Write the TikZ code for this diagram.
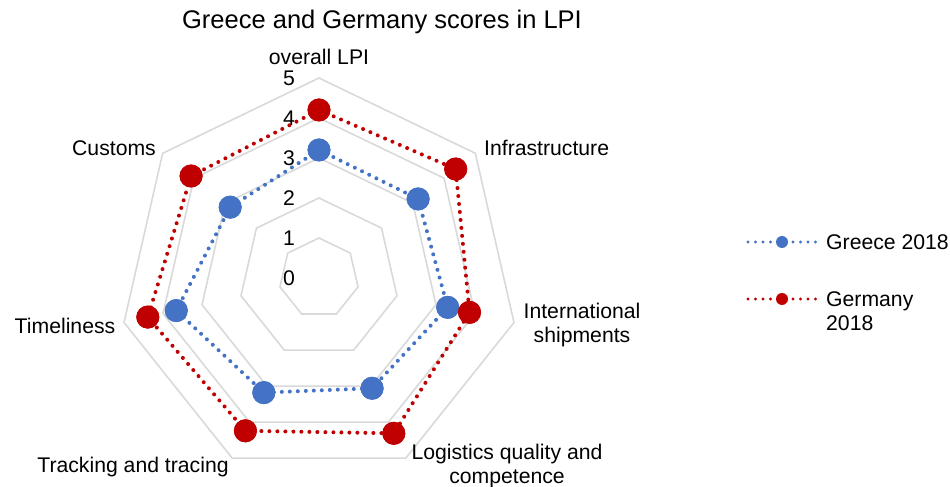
\documentclass[tikz,border=0pt]{standalone}
\usepackage{fontspec}
\setmainfont{Liberation Sans}
\definecolor{gblue}{HTML}{4472C4}
\definecolor{dred}{HTML}{C00000}
\definecolor{gridgray}{HTML}{D9D9D9}
\begin{document}
\begin{tikzpicture}[x=1pt,y=1pt,
  ringline/.style={draw=gridgray,line width=1.6pt},
  lab/.style={font=\fontsize{21.2}{24}\selectfont,inner sep=0pt},
  ttl/.style={font=\fontsize{25.5}{30}\selectfont,inner sep=0pt},
  bdot/.style={circle,fill=gblue,inner sep=0pt,minimum size=23pt},
  rdot/.style={circle,fill=dred,inner sep=0pt,minimum size=23pt},
  lbdot/.style={circle,fill=gblue,inner sep=0pt,minimum size=12pt},
  lrdot/.style={circle,fill=dred,inner sep=0pt,minimum size=12pt},
  bline/.style={draw=gblue,line width=4pt,line cap=round,dash pattern=on 0pt off 8pt},
  rline/.style={draw=dred,line width=4pt,line cap=round,dash pattern=on 0pt off 8pt},
  lbline/.style={draw=gblue,line width=3.4pt,line cap=round,dash pattern=on 0pt off 7.5pt},
  lrline/.style={draw=dred,line width=3.4pt,line cap=round,dash pattern=on 0pt off 7.5pt}]
\useasboundingbox (-319,-209) rectangle (631,278);
% grid rings
\foreach \v in {1,...,5} {
  \draw[ringline] (90:{\v*40}) \foreach \k in {1,...,6} { -- ({90-\k*360/7}:{\v*40}) } -- cycle;
}
% axis values
\foreach \v in {0,...,5} { \node[lab] (t\v) at (-30,{\v*40}) {\v}; }
% title
\node[ttl] (title) at (63,256) {Greece and Germany scores in LPI};
% category labels
\node[lab] (c0) at (0,221) {overall LPI};
\node[lab,anchor=west] (c1) at (165,130) {Infrastructure};
\node[lab,align=center] (c2) at (263,-47) {International\\shipments};
\node[lab,align=center] (c3) at (188,-188) {Logistics quality and\\competence};
\node[lab] (c4) at (-186,-189) {Tracking and tracing};
\node[lab] (c5) at (-254,-48) {Timeliness};
\node[lab] (c6) at (-205,130) {Customs};
% Greece 2018
\def\ang#1{90-#1*360/7}
\node[bdot] (g0) at ({\ang{0}}:{3.20*40}) {};
\node[bdot] (g1) at ({\ang{1}}:{3.17*40}) {};
\node[bdot] (g2) at ({\ang{2}}:{3.30*40}) {};
\node[bdot] (g3) at ({\ang{3}}:{3.06*40}) {};
\node[bdot] (g4) at ({\ang{4}}:{3.18*40}) {};
\node[bdot] (g5) at ({\ang{5}}:{3.66*40}) {};
\node[bdot] (g6) at ({\ang{6}}:{2.84*40}) {};
\draw[bline] (g0.center) -- (g1.center) -- (g2.center) -- (g3.center) -- (g4.center) -- (g5.center) -- (g6.center) -- (g0.center);
\foreach \k in {0,...,6} { \fill[gblue] (g\k) circle (11.5pt); }
% Germany 2018
\node[rdot] (d0) at ({\ang{0}}:{4.20*40}) {};
\node[rdot] (d1) at ({\ang{1}}:{4.37*40}) {};
\node[rdot] (d2) at ({\ang{2}}:{3.86*40}) {};
\node[rdot] (d3) at ({\ang{3}}:{4.31*40}) {};
\node[rdot] (d4) at ({\ang{4}}:{4.24*40}) {};
\node[rdot] (d5) at ({\ang{5}}:{4.39*40}) {};
\node[rdot] (d6) at ({\ang{6}}:{4.09*40}) {};
\draw[rline] (d0.center) -- (d1.center) -- (d2.center) -- (d3.center) -- (d4.center) -- (d5.center) -- (d6.center) -- (d0.center);
\foreach \k in {0,...,6} { \fill[dred] (d\k) circle (11.5pt); }
% legend
\coordinate (lb1) at (429,36);
\coordinate (lb2) at (498,36);
\draw[lbline] (lb1) -- (lb2);
\node[lbdot] (lbd) at (463,36) {};
\node[lab,anchor=west] (lbt) at (507,36) {Greece 2018};
\coordinate (lr1) at (429,-21);
\coordinate (lr2) at (498,-21);
\draw[lrline] (lr1) -- (lr2);
\node[lrdot] (lrd) at (463,-21) {};
\node[lab,anchor=west,align=left] (lrt) at (507,-33) {Germany\\2018};
\end{tikzpicture}
\end{document}
